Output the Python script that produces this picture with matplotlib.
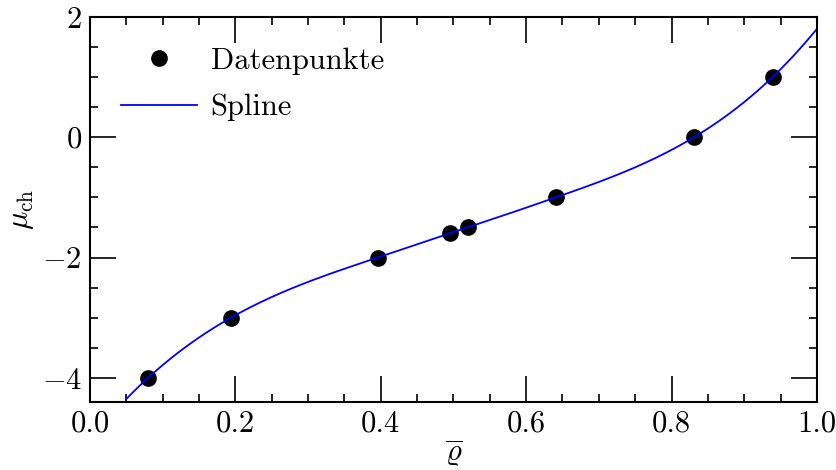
import numpy as np
import matplotlib
matplotlib.use("Agg")
import matplotlib.pyplot as plt
from matplotlib.ticker import MultipleLocator, FuncFormatter

plt.rcParams.update({
    "font.family": "serif",
    "font.serif": ["cmr10"],
    "mathtext.fontset": "cm",
    "axes.formatter.use_mathtext": True,
    "font.size": 22,
    "axes.unicode_minus": True,
})

rho = [0.08, 0.194, 0.396, 0.495, 0.52, 0.641, 0.831, 0.939]
mu = [-4.0, -3.0, -2.0, -1.6, -1.5, -1.0, 0.0, 1.0]


def notaknot_spline(x, y, xs):
    x = np.asarray(x, float); y = np.asarray(y, float)
    n = len(x); m = n - 1
    N = 4 * m
    A = np.zeros((N, N)); b = np.zeros(N)
    r = 0
    for i in range(m):
        h = x[i + 1] - x[i]
        A[r, 4 * i] = 1; b[r] = y[i]; r += 1
        A[r, 4 * i:4 * i + 4] = [1, h, h**2, h**3]; b[r] = y[i + 1]; r += 1
    for i in range(m - 1):
        h = x[i + 1] - x[i]
        A[r, 4 * i:4 * i + 4] = [0, 1, 2 * h, 3 * h**2]; A[r, 4 * (i + 1) + 1] = -1; r += 1
        A[r, 4 * i:4 * i + 4] = [0, 0, 2, 6 * h]; A[r, 4 * (i + 1) + 2] = -2; r += 1
    A[r, 3] = 1; A[r, 7] = -1; r += 1
    A[r, 4 * (m - 2) + 3] = 1; A[r, 4 * (m - 1) + 3] = -1; r += 1
    coef = np.linalg.solve(A, b).reshape(m, 4)
    idx = np.clip(np.searchsorted(x, xs) - 1, 0, m - 1)
    t = xs - x[idx]
    c = coef[idx]
    return c[:, 0] + c[:, 1] * t + c[:, 2] * t**2 + c[:, 3] * t**3

xs = np.linspace(0.05, 1.0, 400)
ys = notaknot_spline(rho, mu, xs)

fig, ax = plt.subplots(figsize=(8.37, 4.70), dpi=100)
fig.subplots_adjust(left=0.1075, right=0.976, top=0.964, bottom=0.145)

ax.plot(rho, mu, "o", color="black", markersize=11, label="Datenpunkte")
ax.plot(xs, ys, "-", color="blue", linewidth=1.3, label="Spline")

ax.set_xlim(0, 1)
ax.set_ylim(-4.4, 2)
ax.xaxis.set_major_locator(MultipleLocator(0.2))
ax.xaxis.set_minor_locator(MultipleLocator(0.05))
ax.yaxis.set_major_locator(MultipleLocator(2))
ax.yaxis.set_minor_locator(MultipleLocator(0.5))
ax.tick_params(which="both", direction="in", top=True, right=True, width=1.2)
ax.tick_params(which="major", length=19, pad=6)
ax.tick_params(which="minor", length=6)
ax.xaxis.set_major_formatter(FuncFormatter(lambda v, p: f"{v:.1f}"))
ax.yaxis.set_major_formatter(FuncFormatter(lambda v, p: f"${int(round(v))}$" if v >= 0 else f"$-{int(round(-v))}$"))
for s in ax.spines.values():
    s.set_linewidth(1.5)

ax.set_xlabel(r"$\overline{\varrho}$", labelpad=0)
ax.set_ylabel(r"$\mu_{\mathrm{ch}}$", labelpad=4)
ax.legend(loc="upper left", frameon=False, fontsize=22, handlelength=2.5,
          handletextpad=0.45, borderaxespad=0.6, labelspacing=0.62)

fig.savefig("out.png", dpi=100)
